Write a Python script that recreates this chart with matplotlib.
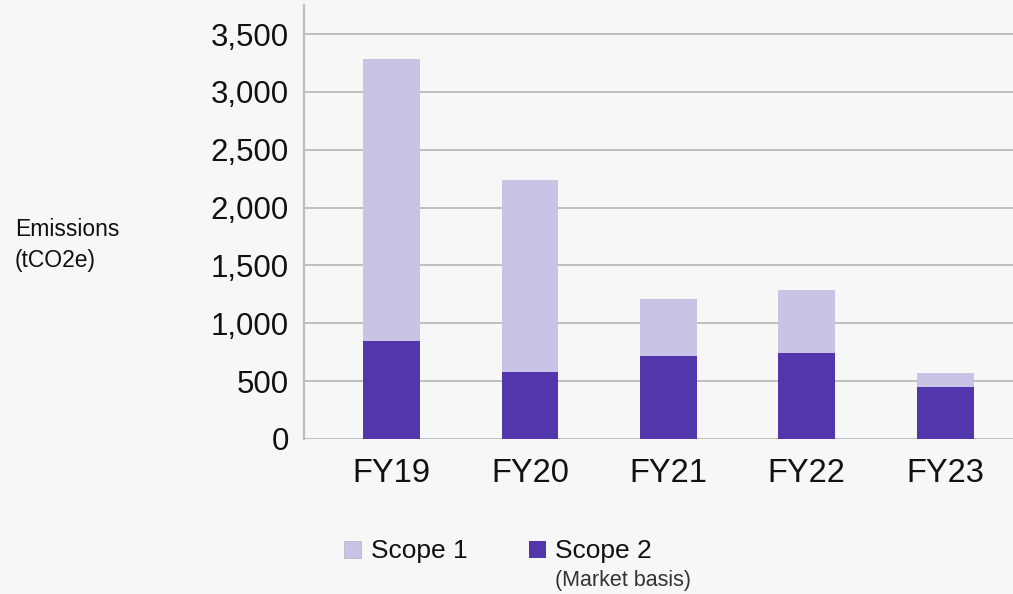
import matplotlib.pyplot as plt
import matplotlib.patches as mpatches
from matplotlib.ticker import FuncFormatter

years = ["FY19", "FY20", "FY21", "FY22", "FY23"]
scope2 = [847, 579, 717, 743, 449]
scope1 = [2437, 1659, 493, 545, 121]

light = "#c9c3e6"
dark = "#5236ab"
grid_col = "#bfbfbf"
bg = "#f7f7f7"


def main():
    plt.rcParams["font.family"] = ["Liberation Sans", "DejaVu Sans"]

    fig = plt.figure(figsize=(10.13, 5.94), dpi=100, facecolor=bg)
    ax = fig.add_axes([304 / 1013, 1 - 439 / 594, 1 - 304 / 1013, (439 - 5) / 594])
    ax.set_facecolor(bg)

    x = range(len(years))
    ax.bar(x, scope2, width=0.41, color=dark, zorder=3)
    ax.bar(x, scope1, width=0.41, bottom=scope2, color=light, zorder=3)

    ax.set_xlim(-0.632, 4.49)
    ax.set_ylim(0, 3751)
    ax.set_yticks(range(0, 3501, 500))
    ax.yaxis.set_major_formatter(FuncFormatter(lambda v, _: f"{int(v):,}"))
    ax.set_xticks(list(x))
    ax.set_xticklabels(years)

    ax.grid(axis="y", color=grid_col, linewidth=1.4, zorder=1)
    for s in ["top", "right", "bottom"]:
        ax.spines[s].set_visible(False)
    ax.spines["left"].set_color(grid_col)
    ax.spines["left"].set_linewidth(1.6)
    ax.tick_params(axis="y", length=0, pad=11, labelsize=22.5, labelcolor="#111111")
    ax.tick_params(axis="x", length=0, pad=14, labelsize=23.5, labelcolor="#111111")

    fig.text(15 / 1013, 1 - 245 / 594, "Emissions\n(tCO2e)", fontsize=16.5,
             ha="left", va="center", linespacing=1.4, color="#111111")

    # legend
    fig.patches.append(mpatches.Rectangle((344 / 1013, 1 - 558 / 594), 17 / 1013, 17 / 594,
                                          transform=fig.transFigure, facecolor=light,
                                          edgecolor="#b8b8c8", linewidth=0.6))
    fig.text(371 / 1013, 1 - 558 / 594, "Scope 1", fontsize=19, ha="left",
             va="baseline", color="#111111")
    fig.patches.append(mpatches.Rectangle((529 / 1013, 1 - 558 / 594), 17 / 1013, 17 / 594,
                                          transform=fig.transFigure, facecolor=dark,
                                          edgecolor="none"))
    fig.text(555 / 1013, 1 - 558 / 594, "Scope 2", fontsize=19, ha="left",
             va="baseline", color="#111111")
    fig.text(555 / 1013, 1 - 586 / 594, "(Market basis)", fontsize=15.5, ha="left",
             va="baseline", color="#333333")

    fig.savefig("out.png", dpi=100, facecolor=bg)


if __name__ == "__main__":
    main()
